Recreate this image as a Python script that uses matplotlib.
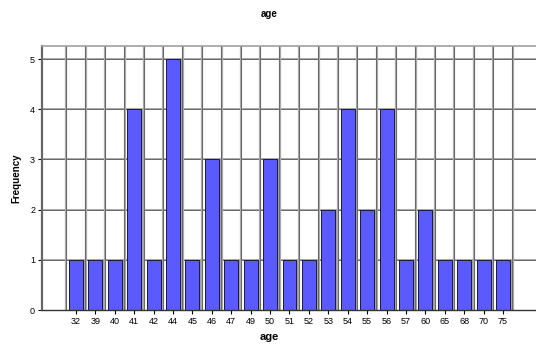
import numpy as np
import matplotlib.pyplot as plt

plt.rcParams['font.family'] = ['Liberation Sans', 'DejaVu Sans']

ages = ["32", "39", "40", "41", "42", "44", "45", "46", "47", "49", "50", "51",
        "52", "53", "54", "55", "56", "57", "60", "65", "68", "70", "75"]
counts = [1, 1, 1, 4, 1, 5, 1, 3, 1, 1, 3, 1, 1, 2, 4, 2, 4, 1, 2, 1, 1, 1, 1]

x = np.arange(len(ages))

fig = plt.figure(figsize=(5.36, 3.44), dpi=100)
ax = fig.add_axes([0.0784, 0.0988, 0.9216, 0.7674])

# grid: horizontal lines at each count, vertical lines between categories
for y in range(1, 6):
    ax.axhline(y, color='#a8a8a8', lw=1.4, zorder=0)
    ax.axhline(y, color='#3a3a3a', lw=0.4, zorder=0)
for b in np.arange(-0.5, len(ages), 1.0):
    ax.axvline(b, color='#a8a8a8', lw=1.6, zorder=0)
    ax.axvline(b - 0.02, color='#3a3a3a', lw=0.4, zorder=0)

# drop shadow then bars
ax.bar(x + 0.1, counts, width=0.72, color='#a0a0a0', zorder=1)
ax.bar(x, counts, width=0.72, color='#5a5aff', edgecolor='#1a1a40', lw=0.7, zorder=2)

ax.set_xlim(-1.75, 23.7)
ax.set_ylim(0, 5.26)
ax.set_xticks(x)
ax.set_xticklabels(ages)
ax.set_yticks(range(0, 6))
ax.tick_params(labelsize=6.5, length=3, width=0.8, pad=2)

ax.spines['right'].set_visible(False)
ax.spines['top'].set_color('#a0a0a0')
ax.spines['top'].set_linewidth(1.2)
ax.spines['left'].set_color('#666666')
ax.spines['left'].set_linewidth(1.6)
ax.spines['bottom'].set_color('#333333')
ax.spines['bottom'].set_linewidth(1.0)

ax.set_title("age", fontsize=7, fontweight='bold', pad=21, x=0.46)
ax.set_xlabel("age", fontsize=8, fontweight='bold')
ax.xaxis.set_label_coords(0.46, -0.085)
ax.set_ylabel("Frequency", fontsize=7, fontweight='bold', labelpad=6)

plt.savefig("out.png", dpi=100)
